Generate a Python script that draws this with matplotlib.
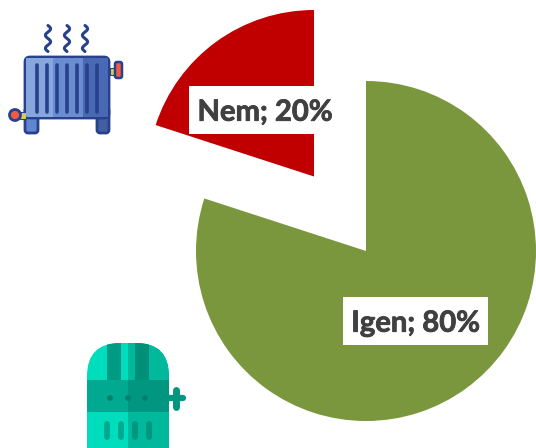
import matplotlib
matplotlib.use("Agg")
import matplotlib.pyplot as plt
import matplotlib.patheffects as pe
from matplotlib.patches import FancyBboxPatch, Rectangle, Circle
import numpy as np

categories = ["Igen", "Nem"]
values = [80, 20]
colors = ["#7A973D", "#C00000"]

fig = plt.figure(figsize=(5.36, 4.48), dpi=100)
ax = fig.add_axes([0, 0, 1, 1])

def Y(y):
    return 448 - y

# pie pieces: each slice keeps its own offset centre
ax.pie(values, colors=[colors[0], "none"], startangle=90, counterclock=False,
       center=(366, Y(251)), radius=170, frame=True)
ax.pie(values, colors=["none", colors[1]], startangle=90, counterclock=False,
       center=(314, Y(176.5)), radius=166.5, frame=True)
ax.set_xlim(0, 536)
ax.set_ylim(0, 448)
ax.set_aspect("equal")
ax.axis("off")

def rbox(x0, y0, x1, y1, r, fc, ec="none", lw=0, z=3):
    p = FancyBboxPatch((x0 + r, Y(y1) + r), x1 - x0 - 2 * r, y1 - y0 - 2 * r,
                       boxstyle=f"round,pad={r},rounding_size={r}", fc=fc, ec=ec, lw=lw, zorder=z)
    ax.add_patch(p)
    return p

# radiator icon
nv = "#27418C"
rbox(25, 108, 38, 133, 3, "#5F86CE", nv, 2.0)
rbox(97, 108, 109, 133, 3, "#41609F", nv, 2.0)
body = rbox(25, 57, 109, 118, 5, "#6688C8", nv, 2.0)
for x0, x1, c in [(26, 53, "#86A6DC"), (53, 83, "#6A8DCF"), (83, 108, "#4A69B5")]:
    r = Rectangle((x0, Y(117)), x1 - x0, 59, fc=c, ec="none", zorder=3.1)
    ax.add_patch(r)
    r.set_clip_path(body)
for x in [37, 47, 57, 67, 77, 87, 97]:
    ax.plot([x, x], [Y(65), Y(112)], color=nv, lw=2.6, solid_capstyle="round", zorder=4)
for x in [48, 67, 85]:
    t = np.linspace(0, 1, 40)
    ax.plot(x + 2.6 * np.sin(t * 4 * np.pi), Y(25.5 + t * 26), color=nv, lw=2.2,
            solid_capstyle="round", zorder=4)
ax.add_patch(Rectangle((110, Y(75)), 5, 7, fc="#D6D24A", ec=nv, lw=0.8, zorder=3))
rbox(115, 62, 122, 78, 2, "#EF5B45", nv, 1.8)
ax.add_patch(Rectangle((20, Y(119)), 6, 7, fc="#D6D24A", ec=nv, lw=0.8, zorder=3))
ax.add_patch(Circle((15, Y(115)), 5.5, fc="#EF5B45", ec=nv, lw=2.0, zorder=4))

# boiler icon
clip = FancyBboxPatch((87, Y(490)), 82, 147, boxstyle="round,pad=0,rounding_size=33",
                      fc="#00DDBD", ec="none", zorder=3)
ax.add_patch(clip)
right = Rectangle((128, 0), 41, Y(343), fc="#00B89C", ec="none", zorder=3.1)
ax.add_patch(right)
right.set_clip_path(clip)
for x0, y0, x1, y1, c in [(87, 380, 128, 412, "#00A98F"), (128, 380, 169, 412, "#009680"),
                          (107, 343, 121, 380, "#009B84"), (135, 343, 149, 380, "#008F79")]:
    r = Rectangle((x0, Y(y1)), x1 - x0, y1 - y0, fc=c, ec="none", zorder=3.2)
    ax.add_patch(r)
    r.set_clip_path(clip)
for x in [110, 128, 145]:
    ax.add_patch(Circle((x, Y(398)), 2.8, fc="#007F6B", ec="none", zorder=4))
for x, c in zip([107, 121, 135, 149], ["#00A98F", "#00A98F", "#009680", "#009680"]):
    ax.plot([x, x], [Y(424), Y(437)], color=c, lw=4.2, solid_capstyle="round", zorder=4)
ax.plot([169, 183], [Y(398), Y(398)], color="#009680", lw=4.5, solid_capstyle="round", zorder=3)
ax.plot([176, 176], [Y(390), Y(407)], color="#009680", lw=5, solid_capstyle="round", zorder=3)

# labels
lab = dict(family="Lato", fontweight="bold", fontsize=21, color="#404040",
           ha="center", va="baseline", zorder=6,
           path_effects=[pe.withStroke(linewidth=0.6, foreground="#404040")])
ax.add_patch(Rectangle((189, Y(134)), 152, 48, fc="white", ec="none", zorder=5))
ax.add_patch(Rectangle((343, Y(345)), 145, 48, fc="white", ec="none", zorder=5))
ax.text(265, Y(120.7), f"{categories[1]}; {values[1]}%", **lab)
ax.text(415.5, Y(331.7), f"{categories[0]}; {values[0]}%", **lab)

fig.savefig("out.png", dpi=100)
